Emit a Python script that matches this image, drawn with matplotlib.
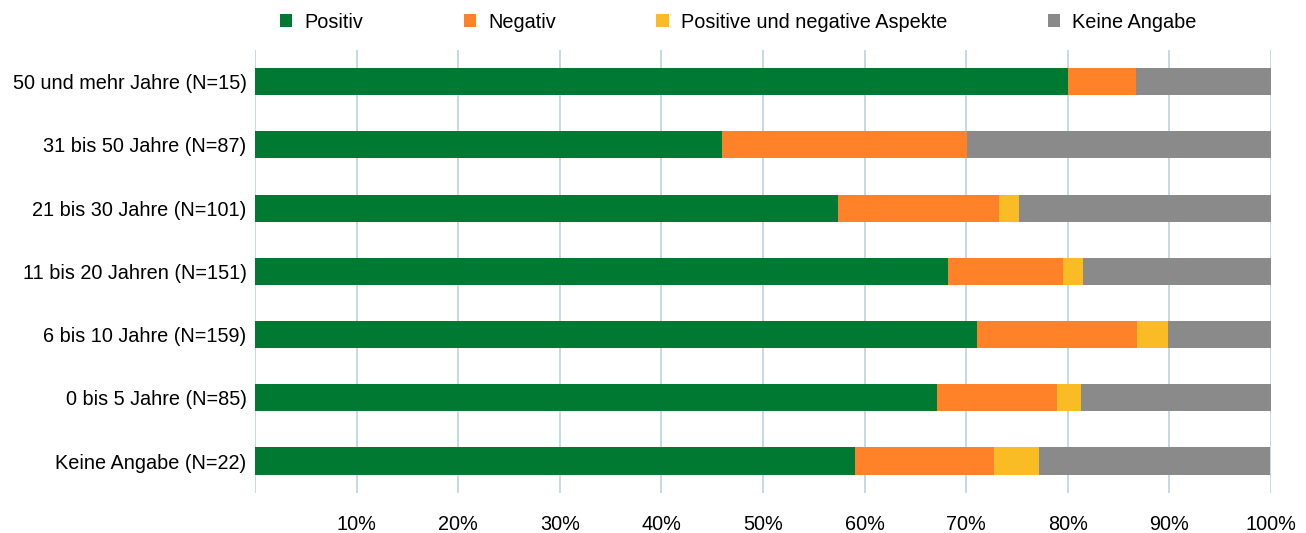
import numpy as np
import matplotlib
matplotlib.use("Agg")
import matplotlib.pyplot as plt
from matplotlib.patches import Patch

plt.rcParams['font.family'] = ['Liberation Sans', 'DejaVu Sans']

# ---- DATA (shares in %) ----
categories = [
    "50 und mehr Jahre (N=15)",
    "31 bis 50 Jahre (N=87)",
    "21 bis 30 Jahre (N=101)",
    "11 bis 20 Jahren (N=151)",
    "6 bis 10 Jahre (N=159)",
    "0 bis 5 Jahre (N=85)",
    "Keine Angabe (N=22)",
]
series_names = ["Positiv", "Negativ", "Positive und negative Aspekte", "Keine Angabe"]
positiv = [80.0, 46.0, 57.4, 68.2, 71.1, 67.1, 59.1]
negativ = [6.7, 24.1, 15.8, 11.3, 15.7, 11.8, 13.6]
beides = [0.0, 0.0, 2.0, 2.0, 3.1, 2.4, 4.5]
keine = [13.3, 29.9, 24.8, 18.5, 10.1, 18.8, 22.7]
tick_labels = ["", "10%", "20%", "30%", "40%", "50%", "60%", "70%", "80%", "90%", "100%"]

colors = ["#007A33", "#FF8229", "#F9BC24", "#8A8A8A"]
fs = 14.3

# ---- PLOT ----
fig = plt.figure(figsize=(13.06, 5.33), dpi=100)
ax = fig.add_axes([255 / 1306, 1 - 492.7 / 533, (1271 - 255) / 1306, (492.7 - 50) / 533])

y = np.arange(len(categories))[::-1]
left = np.zeros(len(categories))
for vals, col in zip([positiv, negativ, beides, keine], colors):
    vals = np.array(vals) / 100.0
    ax.barh(y, vals, left=left, height=0.43, color=col, zorder=3)
    left += vals

ax.set_xlim(0, 1.0)
ax.set_ylim(-0.5, 6.5)
ax.set_xticks(np.linspace(0, 1, 11))
ax.set_xticklabels(tick_labels, fontsize=fs)
ax.set_yticks(y)
ax.set_yticklabels(categories, fontsize=fs)
ax.tick_params(axis='both', length=0)
ax.tick_params(axis='x', pad=16)
ax.tick_params(axis='y', pad=6)
ax.grid(axis='x', color='#C8D8E0', linewidth=1.4, zorder=0)
for s in ax.spines.values():
    s.set_visible(False)

handles = [Patch(facecolor=c, edgecolor='none') for c in colors]
fig.legend(handles, series_names, loc='center left',
           bbox_to_anchor=(280 / 1306, 1 - 22 / 533), ncol=4, frameon=False,
           fontsize=fs, handlelength=0.62, handleheight=0.62,
           handletextpad=0.62, columnspacing=5.05, borderpad=0, borderaxespad=0)

fig.savefig("out.png", dpi=100)
